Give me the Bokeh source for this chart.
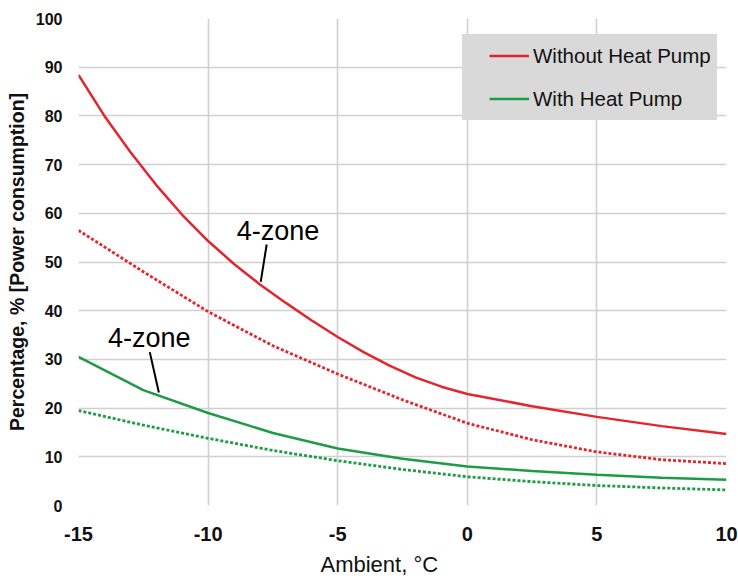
from bokeh.plotting import figure
from bokeh.models import Range1d, Legend, LegendItem, FixedTicker, Title
from bokeh.core.properties import value
from bokeh.embed import file_html
from bokeh.resources import INLINE

# ---- data ----
temp_fine = [-15, -14, -13, -12, -11, -10, -9, -8, -7, -6, -5, -4, -3, -2, -1, 0, 2.5, 5, 7.5, 10]
without_hp_4zone = [88.4, 80.0, 72.6, 65.8, 59.7, 54.3, 49.6, 45.4, 41.6, 38.0, 34.6, 31.5, 28.7,
                    26.3, 24.4, 22.9, 20.4, 18.2, 16.3, 14.7]
temp_coarse = [-15, -12.5, -10, -7.5, -5, -2.5, 0, 2.5, 5, 7.5, 10]
without_hp_other = [56.5, 48.0, 39.8, 32.8, 27.0, 21.7, 16.9, 13.5, 11.0, 9.4, 8.6]
with_hp_4zone = [30.5, 23.7, 19.0, 14.9, 11.7, 9.6, 8.0, 7.1, 6.3, 5.7, 5.3]
with_hp_other = [19.5, 16.5, 13.8, 11.3, 9.2, 7.4, 5.9, 4.9, 4.1, 3.6, 3.2]

x_ticks = [-15, -10, -5, 0, 5, 10]
x_tick_labels = {-15: "-15", -10: "-10", -5: "-5", 0: "0", 5: "5", 10: "10"}
y_ticks = [0, 10, 20, 30, 40, 50, 60, 70, 80, 90, 100]

# annotation labels: text position (middle) and leader line (start -> end on curve)
ann_text = ["4-zone", "4-zone"]
ann_x = [-7.3, -12.27]
ann_y = [56.3, 34.3]
lead_x0 = [-7.74, -12.25]
lead_y0 = [53.6, 31.5]
lead_x1 = [-7.97, -11.9]
lead_y1 = [45.9, 23.2]

RED = "#e3262d"
GREEN = "#1e9b45"
GRID = "#d0d0d0"
FONT = "Liberation Sans"

p = figure(width=738, height=583, output_backend="svg", toolbar_location=None,
           x_range=Range1d(-15, 10), y_range=Range1d(0, 100))
p.min_border_left = 78
p.min_border_right = 12
p.min_border_top = 18
p.min_border_bottom = 78
p.outline_line_color = None
p.background_fill_color = "white"

# grid
p.xgrid.ticker = FixedTicker(ticks=x_ticks)
p.ygrid.ticker = FixedTicker(ticks=y_ticks)
for g in (p.xgrid, p.ygrid):
    g.grid_line_color = GRID
    g.grid_line_width = 1.6

# axes
p.xaxis.ticker = FixedTicker(ticks=x_ticks)
p.xaxis.major_label_overrides = x_tick_labels
p.yaxis.ticker = FixedTicker(ticks=y_ticks)
for ax in (p.xaxis, p.yaxis):
    ax.axis_line_color = None
    ax.major_tick_line_color = None
    ax.minor_tick_line_color = None
    ax.major_tick_out = 0
    ax.major_tick_in = 0
    ax.minor_tick_out = 0
    ax.minor_tick_in = 0
    ax.major_label_text_font = FONT
    ax.major_label_text_font_style = "bold"
    ax.major_label_text_color = "#111111"
    ax.axis_label_text_font = FONT
    ax.axis_label_text_color = "#111111"
p.xaxis.major_label_text_font_size = "20px"
p.yaxis.major_label_text_font_size = "16px"
p.xaxis.major_label_standoff = 21
p.yaxis.major_label_standoff = 16
p.yaxis.axis_label = "Percentage, % [Power consumption]"
p.yaxis.axis_label_text_font_size = "19.5px"
p.yaxis.axis_label_text_font_style = "bold"
p.yaxis.axis_label_standoff = 5

# x-axis title (slightly left of centre, as in the original)
xtitle = Title(text="Ambient, °C", align="left", offset=242, standoff=12,
               text_font=FONT, text_font_size="22px", text_font_style="normal",
               text_color="#111111", vertical_align="bottom")
p.add_layout(xtitle, "below")

# curves
r1 = p.line(temp_fine, without_hp_4zone, line_color=RED, line_width=2.5)
p.line(temp_coarse, without_hp_other, line_color=RED, line_width=2.8, line_dash="3 2")
r2 = p.line(temp_coarse, with_hp_4zone, line_color=GREEN, line_width=2.5)
p.line(temp_coarse, with_hp_other, line_color=GREEN, line_width=2.8, line_dash="3 2")

# annotations
p.segment(x0=lead_x0, y0=lead_y0, x1=lead_x1, y1=lead_y1, line_color="black", line_width=2)
p.text(x=ann_x, y=ann_y, text=ann_text, text_font=value(FONT), text_font_size="27px",
       text_align="center", text_baseline="middle", text_color="black")

# legend: grey panel (empty legend box) + transparent legend with the entries
bg_r = p.line(x=[], y=[], line_alpha=0)
legend_bg = Legend(items=[LegendItem(label=" ", renderers=[bg_r])], location=(384, 385))
legend_bg.background_fill_color = "#d9d9d9"
legend_bg.background_fill_alpha = 1.0
legend_bg.border_line_color = None
legend_bg.glyph_width = 254
legend_bg.glyph_height = 86
legend_bg.label_height = 86
legend_bg.label_width = 1
legend_bg.label_standoff = 0
legend_bg.padding = 0
legend_bg.margin = 0
legend_bg.spacing = 0
legend_bg.label_text_font_size = "4px"
p.add_layout(legend_bg, "center")

legend = Legend(items=[LegendItem(label="Without Heat Pump", renderers=[r1]),
                       LegendItem(label="With Heat Pump", renderers=[r2])],
                location=(411, 385))
legend.background_fill_alpha = 0.0
legend.border_line_color = None
legend.label_text_font = FONT
legend.label_text_font_size = "20.5px"
legend.label_text_color = "#111111"
legend.glyph_width = 40
legend.glyph_height = 43
legend.label_height = 43
legend.label_standoff = 4
legend.spacing = 0
legend.padding = 0
legend.margin = 0
p.add_layout(legend, "center")

open("out.html", "w").write(file_html(p, INLINE))
